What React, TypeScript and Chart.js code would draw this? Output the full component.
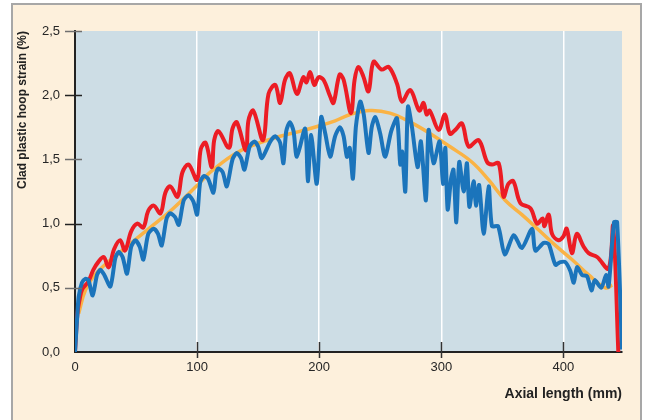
import React, { useEffect, useRef } from "react";
import { Chart, registerables } from "chart.js";

Chart.register(...registerables);

// [axial length (mm), clad plastic hoop strain (%)]
const redSeries: [number, number][] = [
  [0, 0.0], [2, 0.3], [4, 0.42], [6, 0.49], [11, 0.55], [15, 0.64], [19, 0.7], [23.5, 0.74], [27.6, 0.66],
  [32, 0.8], [37, 0.87], [41, 0.79], [46, 0.94], [51, 1.0], [56, 0.97], [60, 1.1], [64.5, 1.14], [70, 1.08],
  [74, 1.24], [78, 1.29], [84, 1.21], [88, 1.4], [93, 1.46], [100, 1.34], [103, 1.58], [107, 1.63], [112, 1.44],
  [114, 1.65], [117.5, 1.72], [126, 1.59], [129, 1.74], [132.5, 1.79], [140, 1.57], [142, 1.8], [146, 1.88],
  [154, 1.65], [158.5, 2.01], [164, 2.08], [168, 1.94], [172, 2.12], [176, 2.17], [181.7, 2.01], [187, 2.14],
  [189.5, 2.1], [192.6, 2.18], [196, 2.08], [199.5, 2.14], [203.5, 2.12], [209, 1.99], [211.7, 1.94],
  [216.7, 2.16], [220, 2.12], [226, 1.86], [229, 2.12], [232, 2.22], [236, 2.15], [240.4, 2.03], [244.5, 2.26],
  [251, 2.2], [257, 2.22], [263.7, 2.09], [267.8, 1.95], [274.6, 2.04], [282, 1.88], [285.5, 1.94], [288, 1.85],
  [290.5, 1.88], [297.8, 1.73], [303, 1.85], [307, 1.7], [311.5, 1.73], [317, 1.78], [322.4, 1.6], [330.6, 1.65],
  [337.5, 1.48], [341.5, 1.46], [347, 1.47], [351, 1.21], [355, 1.31], [359, 1.33], [364.8, 1.16], [373, 1.12],
  [378.4, 1.0], [383, 1.04], [384.5, 0.98], [388, 1.07], [390.7, 0.92], [396, 0.87], [400, 0.9], [402.7, 0.96],
  [407, 0.77], [411, 0.92], [416.6, 0.82], [420.7, 0.77], [427.6, 0.74], [437, 0.65], [440.7, 0.98], [445, 0.0],
];

const blueSeries: [number, number][] = [
  [0, 0.0], [2, 0.3], [3, 0.43], [5.7, 0.54], [8.5, 0.57], [11, 0.56], [14.5, 0.44], [18, 0.6], [20.8, 0.64],
  [24, 0.6], [29, 0.51], [33, 0.73], [35.8, 0.78], [39, 0.74], [42.6, 0.61], [46, 0.82], [49.5, 0.87], [53, 0.82],
  [56, 0.72], [60, 0.92], [64.5, 0.96], [68, 0.92], [71, 0.83], [75, 1.04], [78, 1.08], [82, 1.05], [85, 0.99],
  [89, 1.18], [93, 1.22], [97, 1.17], [100, 1.07], [102.5, 1.32], [105.5, 1.37], [109, 1.35], [113.4, 1.24],
  [115.5, 1.39], [117.5, 1.43], [121, 1.4], [124.3, 1.29], [129, 1.5], [132.5, 1.55], [136, 1.51], [138.8, 1.42],
  [143, 1.6], [147, 1.64], [150, 1.6], [153, 1.51], [160, 1.64], [164, 1.68], [168, 1.63], [170.7, 1.47],
  [173, 1.72], [176, 1.79], [179, 1.72], [181.7, 1.52], [188.5, 1.74], [190.7, 1.33], [193.4, 1.69], [198, 1.31],
  [201.6, 1.83], [205, 1.7], [209, 1.52], [213, 1.68], [217, 1.75], [220, 1.68], [222.7, 1.52], [225, 1.59],
  [227.6, 1.35], [230, 1.75], [233.6, 1.95], [236.5, 1.85], [240.4, 1.55], [243, 1.75], [246, 1.83], [250, 1.7],
  [254, 1.52], [259, 1.72], [263.7, 1.82], [266.4, 1.46], [268, 1.56], [270.5, 1.25], [272.7, 1.91], [276, 1.75],
  [280.6, 1.44], [283.3, 1.64], [287.4, 1.18], [289.6, 1.73], [293.7, 1.47], [298.6, 1.64], [301.4, 1.31],
  [303.3, 1.59], [305.2, 1.11], [308, 1.35], [310, 1.42], [312.3, 1.01], [314.7, 1.48], [318.3, 1.25], [321, 1.47],
  [323, 1.13], [326.5, 1.33], [328.4, 1.14], [331, 1.3], [334.7, 0.92], [338.8, 1.29], [341.5, 0.98],
  [346.5, 0.98], [352, 0.76], [359.3, 0.91], [366, 0.81], [374.3, 0.96], [377, 0.79], [383.9, 0.85], [388, 0.84],
  [393.4, 0.68], [397.5, 0.7], [401.6, 0.7], [405.7, 0.63], [408.5, 0.54], [411.2, 0.66], [415.3, 0.6],
  [419.4, 0.59], [423, 0.48], [425.7, 0.56], [431, 0.5], [435, 0.6], [437, 0.51], [441.5, 1.01], [444, 1.01],
  [448, 0.02],
];

const orangeSeries: [number, number][] = [
  [3, 0.3], [8.5, 0.48], [18, 0.62], [38.5, 0.79], [63, 0.98], [79.5, 1.11], [101.4, 1.31], [112, 1.41],
  [134, 1.56], [161, 1.66], [188.5, 1.73], [213, 1.8], [225.4, 1.85], [241.8, 1.88], [258, 1.86], [274.6, 1.79],
  [291, 1.7], [307, 1.6], [325, 1.48], [338.8, 1.34], [352.5, 1.18], [366, 1.07], [379.8, 0.95], [393.4, 0.83],
  [407, 0.72], [420.7, 0.6], [434.4, 0.5], [440, 0.52],
];

const xTickValues = [100, 200, 300, 400];
const yTickValues = [0.5, 1.0, 1.5, 2.0, 2.5];
const xTitle = "Axial length (mm)";
const yTitle = "Clad plastic hoop strain (%)";

const toPoints = (s: [number, number][]) => s.map(([x, y]) => ({ x, y }));

const decorPlugin = {
  id: "decor",
  beforeDraw(chart: any) {
    const { ctx, chartArea } = chart;
    ctx.save();
    ctx.fillStyle = "#cddde5";
    ctx.fillRect(chartArea.left, chartArea.top, chartArea.right - chartArea.left, chartArea.bottom - chartArea.top);
    ctx.restore();
  },
  afterDraw(chart: any) {
    const { ctx, chartArea, scales } = chart;
    ctx.save();
    ctx.lineWidth = 1.5;
    xTickValues.forEach((v) => {
      const x = Math.round(scales.x.getPixelForValue(v)) + 0.5;
      ctx.strokeStyle = "#333";
      ctx.beginPath();
      ctx.moveTo(x, chartArea.bottom - 10);
      ctx.lineTo(x, chartArea.bottom + 6);
      ctx.stroke();
    });
    yTickValues.forEach((v, i) => {
      const y = Math.round(scales.y.getPixelForValue(v)) + 0.5;
      ctx.strokeStyle = i % 2 === 0 ? "#6f6f6f" : "#222";
      ctx.beginPath();
      ctx.moveTo(chartArea.left - 10, y);
      ctx.lineTo(chartArea.left + 7, y);
      ctx.stroke();
    });
    ctx.restore();
  },
};

export default function App() {
  const ref = useRef<HTMLCanvasElement | null>(null);
  useEffect(() => {
    if (!ref.current) return;
    const chart = new Chart(ref.current, {
      type: "line",
      data: {
        datasets: [
          {
            data: toPoints(blueSeries),
            borderColor: "#1b74bb",
            borderWidth: 4,
            pointRadius: 0,
            tension: 0.25,
            fill: false,
            order: 0,
          },
          {
            data: toPoints(redSeries),
            borderColor: "#ec1c24",
            borderWidth: 4,
            pointRadius: 0,
            tension: 0.35,
            fill: false,
            order: 1,
          },
          {
            data: toPoints(orangeSeries),
            borderColor: "#fab345",
            borderWidth: 3.5,
            pointRadius: 0,
            tension: 0.4,
            fill: false,
            order: 2,
          },
        ],
      },
      options: {
        animation: false,
        responsive: false,
        maintainAspectRatio: false,
        devicePixelRatio: 1,
        layout: { padding: { left: 11, top: 31, right: 26, bottom: 13 } },
        plugins: { legend: { display: false }, tooltip: { enabled: false } },
        scales: {
          x: {
            type: "linear",
            min: 0,
            max: 448,
            afterFit: (s: any) => {
              s.height = 55;
            },
            ticks: {
              stepSize: 100,
              includeBounds: false,
              padding: 8,
              color: "#262626",
              font: { family: "'Liberation Sans', Arial, sans-serif", size: 13 },
            },
            grid: { color: "#ffffff", lineWidth: 1.5, drawTicks: false },
            border: { display: true, color: "#222", width: 2 },
            title: {
              display: true,
              text: xTitle,
              align: "end",
              color: "#222",
              padding: { top: 0, bottom: 4 },
              font: { family: "'Liberation Sans', Arial, sans-serif", size: 14, weight: "bold" },
            },
          },
          y: {
            type: "linear",
            min: 0,
            max: 2.5,
            afterFit: (s: any) => {
              s.width = 64;
            },
            ticks: {
              stepSize: 0.5,
              padding: 15,
              color: "#262626",
              font: { family: "'Liberation Sans', Arial, sans-serif", size: 13 },
              callback: (v: any) => Number(v).toFixed(1).replace(".", ","),
            },
            grid: { display: false, drawTicks: false },
            border: { display: true, color: "#222", width: 2 },
            title: {
              display: true,
              text: yTitle,
              align: "end",
              color: "#222",
              padding: { top: 4, bottom: 0 },
              font: { family: "'Liberation Sans', Arial, sans-serif", size: 12, weight: "bold" },
            },
          },
        },
      },
      plugins: [decorPlugin],
    });
    return () => chart.destroy();
  }, []);

  return (
    <div style={{ position: "fixed", left: 0, top: 0, width: 648, height: 420, background: "#fff", overflow: "hidden" }}>
      <div
        style={{
          position: "absolute",
          left: 11,
          top: 3,
          width: 627,
          height: 460,
          background: "#fdf0dc",
          border: "2px solid #a7a7a7",
          borderBottom: "none",
        }}
      />
      <canvas ref={ref} width={648} height={420} style={{ position: "absolute", left: 0, top: 0, width: 648, height: 420 }} />
    </div>
  );
}
